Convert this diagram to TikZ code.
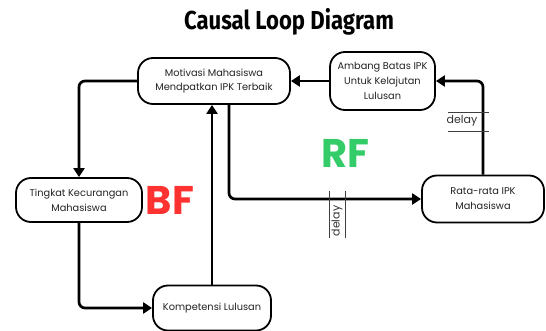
\documentclass[tikz,border=0pt]{standalone}
\usepackage{fontspec}
\setmainfont{Poppins}
\newfontfamily\titlefont[FakeStretch=0.85]{Fira Sans}
\newfontfamily\loopfont{Poppins}
\usetikzlibrary{arrows.meta}
\definecolor{bfred}{RGB}{255,50,50}
\definecolor{rfgreen}{RGB}{52,204,104}
\definecolor{txt}{RGB}{35,35,35}
\tikzset{
  var/.style={draw=black, line width=1.8pt, rounded corners=15pt, fill=white,
    align=center, text=txt, font=\fontsize{9.8}{14.8}\selectfont, inner sep=0pt},
  link/.style={line width=2.7pt, rounded corners=6pt,
    -{Triangle[length=9pt,width=11pt]}},
  delaymark/.style={line width=0.9pt, draw=black!75},
  delaytext/.style={font=\fontsize{11}{13}\selectfont, text=black!80, inner sep=0pt},
  looplabel/.style={font=\loopfont\bfseries\fontsize{40}{40}\selectfont, inner sep=0pt}
}
\begin{document}
\begin{tikzpicture}[x=1pt,y=-1pt]
  \fill[white] (0,0) rectangle (546,331);
  \useasboundingbox (0,0) rectangle (546,331);

  % title
  \node[font=\titlefont\bfseries\fontsize{26}{28}\selectfont] (title) at (289,22) {Causal Loop Diagram};

  % variables
  \node[var, minimum width=152pt, minimum height=46pt] (mot) at (214,81)
    {Motivasi Mahasiswa\\Mendpatkan IPK Terbaik};
  \node[var, minimum width=105pt, minimum height=58pt] (amb) at (382.5,81)
    {Ambang Batas IPK\\Untuk Kelajutan\\Lulusan};
  \node[var, minimum width=122pt, minimum height=47pt] (rat) at (483,199)
    {Rata-rata IPK\\Mahasiswa};
  \node[var, minimum width=126pt, minimum height=44pt] (tin) at (79,200)
    {Tingkat Kecurangan\\Mahasiswa};
  \node[var, minimum width=118pt, minimum height=45pt] (kom) at (212,308)
    {Kompetensi Lulusan};

  % loop labels
  \node[looplabel, text=bfred] (bf) at (170,200) {BF};
  \node[looplabel, text=rfgreen] (rf) at (345,153) {RF};

  % causal links
  \draw[link] (amb.west) -- (mot.east);
  \draw[link] (rat.north) |- (amb.east);
  \draw[link] (mot.west) -| (tin.north);
  \draw[link] (tin.south) |- (kom.west);
  \draw[link] (kom.north) -- (kom.north |- mot.south);
  \draw[link] ([xshift=15pt]mot.south) |- (rat.west);

  % delay on the link into the threshold
  \draw[delaymark] (448,112) -- (489,112);
  \draw[delaymark] (448,131) -- (489,131);
  \node[delaytext] (d1) at (462,121) {delay};

  % delay on the link into the average GPA
  \draw[delaymark] (329,191) -- (329,238);
  \draw[delaymark] (345,191) -- (345,238);
  \node[delaytext, rotate=90] (d2) at (337,221) {delay};
\end{tikzpicture}
\end{document}
